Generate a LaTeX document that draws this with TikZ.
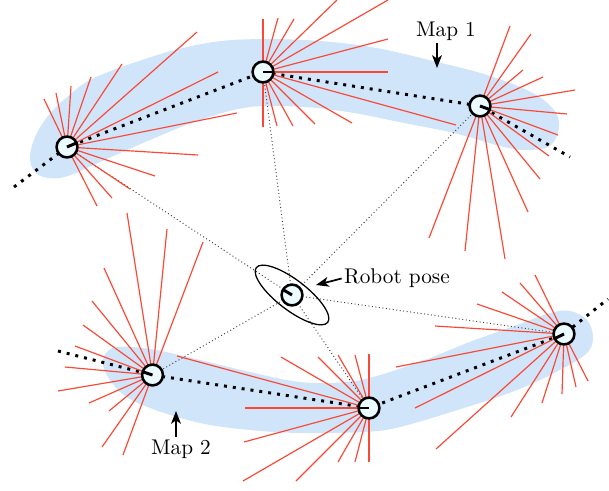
\documentclass[tikz,border=0pt]{standalone}
\usetikzlibrary{arrows.meta}
\definecolor{blob}{RGB}{208,228,250}
\definecolor{beamred}{RGB}{250,72,52}
\definecolor{posefill}{RGB}{236,251,255}
\tikzset{
  blobfill/.style={fill=blob, draw=none},
  chain/.style={line width=1.4pt, dash pattern=on 1.4pt off 2.8pt},
  sight/.style={line width=0.45pt, dash pattern=on 0.45pt off 1.2pt, black!75},
  beam/.style={beamred, line width=0.55pt},
  pose/.style={circle, draw, line width=1.2pt, fill=posefill, minimum size=9.8pt, inner sep=0pt},
  heading/.style={line width=1.4pt},
  pointer/.style={-{Stealth[length=6pt,width=4.6pt,inset=1.6pt]}, line width=0.8pt},
  label/.style={inner sep=1pt, font=\normalsize}
}
\begin{document}
\begin{tikzpicture}[x=0.47pt,y=-0.47pt]
\useasboundingbox (0,0) rectangle (609,490);

% pose positions
\coordinate (m1a) at (67,147);
\coordinate (m1b) at (263,72);
\coordinate (m1c) at (480,106);
\coordinate (m2a) at (152.5,375);
\coordinate (m2b) at (369,408);
\coordinate (m2c) at (564,334);
\coordinate (rob) at (292,295);
% open ends of the map chains
\coordinate (m1s) at (14,187);
\coordinate (m1e) at (570,157);
\coordinate (m2s) at (58,351);
\coordinate (m2e) at (608,299);

% map regions
\fill[blobfill] plot[smooth cycle, tension=0.6] coordinates {
  (30,158) (35,137) (48,116) (66,98) (90,80) (133,63) (183,48) (233,40) (304,40)
  (371,47) (437,62) (487,75) (531,92) (554,110) (559,127) (551,145)
  (530,150) (504,147) (454,133) (404,123) (354,113) (304,107) (250,107)
  (200,120) (150,140) (100,162) (68,176) (48,178) (35,172)};
\fill[blobfill] plot[smooth cycle, tension=0.6] coordinates {
  (103,365) (113,348) (150,349) (200,360) (250,372) (300,382) (347,382)
  (380,375) (430,358) (467,343) (517,325) (550,313) (570,311) (587,320)
  (593,337) (587,353) (560,370) (517,390) (467,407) (400,427) (363,432)
  (300,433) (250,430) (200,423) (150,408) (120,392)};

% sight lines from the robot to the map poses
\foreach \t in {m1a,m1b,m1c,m2a,m2b,m2c}
  \draw[sight] (rob) -- (\t);

% pose chains
\draw[chain] (m1s) -- (m1a) -- (m1b) -- (m1c) -- (m1e);
\draw[chain] (m2s) -- (m2a) -- (m2b) -- (m2c) -- (m2e);

% range beams
\begin{scope}
\clip (0,0) rectangle (609,490);
\foreach \x/\y in {197/32,122/64,91/77,71/86,56/93,44/99,218/72,237/113,198/155,155/176,130/189,112/198,97/206}
  \draw[beam] (m1a) -- (\x,\y);
\foreach \x/\y in {263/19,278/18,294/19,337/0,388/0,388/39,388/72,456/125,352/123,315/124,293/126,277/126,263/127}
  \draw[beam] (m1b) -- (\x,\y);
\foreach \x/\y in {510/26,531/34,523/70,543/77,575/90,567/114,558/135,549/156,540/179,528/212,505/259,465/251,429/238}
  \draw[beam] (m1c) -- (\x,\y);
\foreach \x/\y in {127/213,167/229,203/242,104/268,92/301,83/325,75/346,65/367,58/391,89/403,109/411,102/447,123/455}
  \draw[beam] (m2a) -- (\x,\y);
\foreach \x/\y in {369/354,355/355,338/355,318/357,281/357,177/356,245/408,244/442,243/481,296/481,338/462,355/462,369/462}
  \draw[beam] (m2b) -- (\x,\y);
\foreach \x/\y in {535/275,520/283,502/292,477/304,435/326,396/367,415/408,436/449,511/417,542/403,562/394,576/387,588/381}
  \draw[beam] (m2c) -- (\x,\y);
\end{scope}

% robot uncertainty
\draw[line width=0.6pt, rotate around={-37.5:(rob)}] (rob) ellipse (45 and 15);

% poses with headings
\node[pose] (p1a) at (m1a) {};
\node[pose] (p1b) at (m1b) {};
\node[pose] (p1c) at (m1c) {};
\node[pose] (p2a) at (m2a) {};
\node[pose] (p2b) at (m2b) {};
\node[pose] (p2c) at (m2c) {};
\node[pose] (prob) at (rob) {};
\draw[heading] (p1a.center) -- ++(23:4.9pt);
\draw[heading] (p1b.center) -- ++(0:4.9pt);
\draw[heading] (p1c.center) -- ++(-20:4.9pt);
\draw[heading] (p2a.center) -- ++(162:4.9pt);
\draw[heading] (p2b.center) -- ++(180:4.9pt);
\draw[heading] (p2c.center) -- ++(206:4.9pt);
\draw[heading] (prob.center) -- ++(149:4.9pt);

% labels
\node[label] (map1) at (446,31) {Map 1};
\coordinate (map1tip) at (437,68);
\draw[pointer] (map1.south -| map1tip) -- (map1tip);
\node[label] (map2) at (181,449) {Map 2};
\coordinate (map2tip) at (176,411);
\draw[pointer] (map2.north -| map2tip) -- (map2tip);
\node[label] (robl) at (397,278.5) {Robot pose};
\coordinate (robtip) at (316,285);
\draw[pointer] (robl.west) -- (robtip);
\end{tikzpicture}
\end{document}
